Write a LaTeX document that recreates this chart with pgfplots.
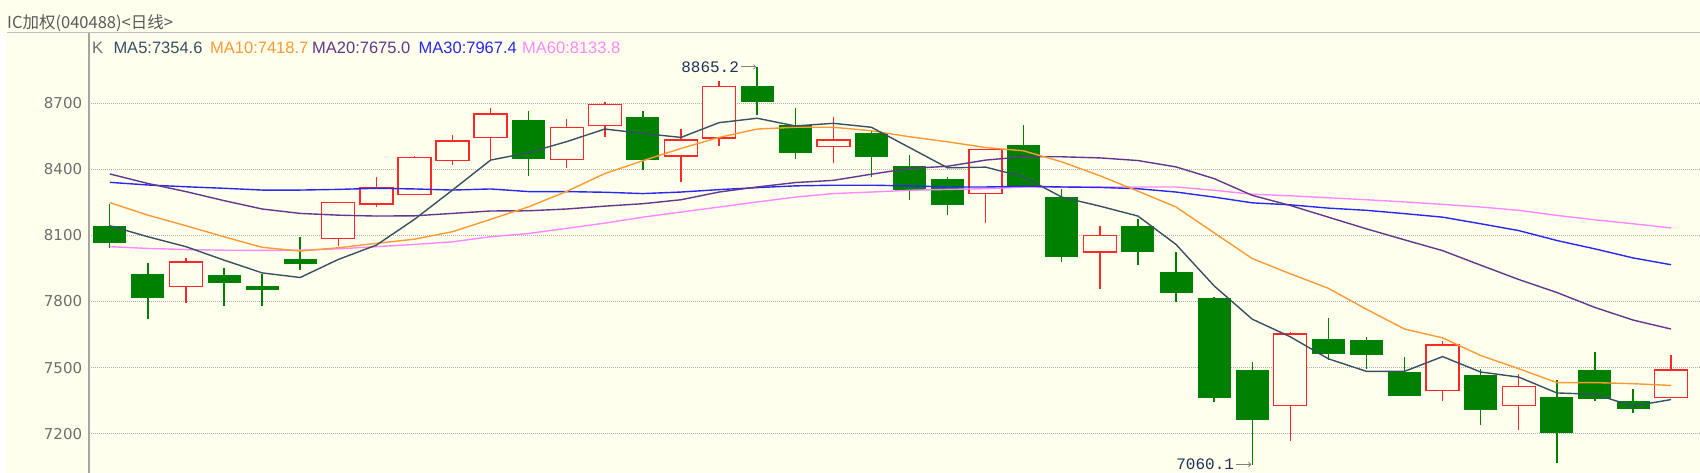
\documentclass[border=0pt]{standalone}
\usepackage{fontspec}
\setmainfont{DejaVu Sans}
\newfontfamily\cjk{Noto Sans CJK SC}
\newfontfamily\monof{Liberation Mono}
\newfontfamily\legf{Liberation Sans}
\usepackage{pgfplots}
\usepackage{pgfplotstable}
\pgfplotsset{compat=1.18}
\usetikzlibrary{arrows.meta}

\definecolor{bgc}{RGB}{255,255,238}
\definecolor{gridc}{RGB}{175,175,175}
\definecolor{tickc}{RGB}{110,110,110}
\definecolor{axc}{RGB}{165,165,165}
\definecolor{titlec}{RGB}{90,90,90}
\definecolor{upc}{RGB}{255,40,40}
\definecolor{dnc}{RGB}{0,128,0}
\definecolor{ma5c}{RGB}{55,80,100}
\definecolor{ma10c}{RGB}{255,153,51}
\definecolor{ma20c}{RGB}{100,55,140}
\definecolor{ma30c}{RGB}{40,40,240}
\definecolor{ma60c}{RGB}{255,136,255}
\definecolor{annc}{RGB}{30,50,90}

% moving averages, one row per trading day
\pgfplotstableread{
i  ma5   ma10  ma20  ma30  ma60
1  8144  8249  8379  8341  8049
2  8094  8192  8336  8329  8041
3  8049  8144  8299  8321  8036
4  7988  8094  8258  8314  8033
5  7930  8046  8220  8306  8032
6  7909  8029  8200  8306  8033
7  7991  8044  8192  8309  8039
8  8056  8064  8188  8314  8049
9  8173  8083  8189  8311  8059
10 8306  8117  8200  8306  8071
11 8442  8173  8211  8311  8094
12 8476  8230  8212  8299  8109
13 8526  8300  8220  8299  8132
14 8583  8381  8233  8296  8156
15 8563  8439  8244  8290  8183
16 8545  8495  8262  8297  8206
17 8612  8545  8297  8308  8229
18 8632  8583  8320  8317  8252
19 8597  8591  8340  8325  8274
20 8609  8591  8350  8328  8290
21 8591  8575  8378  8328  8297
22 8499  8548  8404  8325  8305
23 8407  8525  8414  8320  8309
24 8410  8499  8442  8320  8312
25 8366  8484  8457  8323  8320
26 8274  8434  8457  8320  8320
27 8233  8371  8452  8318  8320
28 8188  8301  8440  8312  8320
29 8059  8229  8411  8297  8320
30 7871  8112  8358  8274  8305
31 7720  7995  8282  8248  8287
32 7640  7926  8236  8239  8280
33 7540  7860  8183  8224  8271
34 7483  7765  8130  8214  8262
35 7483  7675  8080  8199  8252
36 7550  7635  8031  8183  8241
37 7480  7555  7965  8153  8229
38 7457  7495  7900  8122  8214
39 7385  7432  7841  8077  8191
40 7379  7432  7773  8039  8171
41 7325  7427  7716  7998  8153
42 7355  7419  7675  7967  8134
}\malines

% rising days (close >= open): open high low close
\pgfplotstableread{
i  o     h     l     c
3  7868  7999  7795  7980
7  8085  8249  8052  8249
8  8243  8364  8228  8317
9  8285  8461  8285  8453
10 8439  8555  8418  8529
11 8544  8677  8442  8652
13 8446  8627  8405  8589
14 8600  8708  8548  8695
16 8461  8584  8343  8533
17 8543  8799  8505  8776
20 8505  8639  8431  8533
24 8290  8492  8157  8490
27 8024  8145  7856  8100
32 7328  7660  7167  7653
36 7395  7623  7350  7603
38 7328  7469  7216  7415
42 7364  7558  7364  7489
}\upday

% falling days
\pgfplotstableread{
i  o     h       l       c
1  8144  8241    8044    8068
2  7924  7974    7720    7818
4  7919  7950    7780    7886
5  7871  7924    7780    7853
6  7993  8093    7942    7972
12 8621  8665    8370    8450
15 8639  8665    8399    8445
18 8776  8865.2  8647    8705
19 8601  8677    8449    8475
21 8566  8578    8366    8457
22 8416  8464    8262    8309
23 8355  8366    8191    8239
25 8510  8601    8325    8325
26 8274  8312    7978    8004
28 8142  8176    7967    8024
29 7931  8024    7798    7841
30 7815  7821    7344    7362
31 7490  7525    7060.1  7265
33 7630  7723    7535    7565
34 7624  7641    7495    7559
35 7477  7550    7370    7370
37 7465  7495    7239    7307
39 7367  7442    7068    7204
40 7490  7570    7349    7358
41 7347  7404    7295    7314
}\dnday

\begin{document}
\begin{tikzpicture}
\useasboundingbox (0,0) rectangle (1700pt,473pt);
\fill[bgc] (0,0) rectangle (1700pt,473pt);
\fill[white] (0,0) rectangle (6pt,440pt);
\draw[axc!70, line width=1pt] (7pt,440pt) -- (1700pt,440pt);

\begin{axis}[
  at={(89pt,0pt)}, anchor=south west,
  scale only axis, width=1611pt, height=440pt,
  xmin=0.454, xmax=42.76, ymin=7021.6, ymax=9019,
  axis line style={draw=none},
  xtick=\empty, ytick={7200,7500,...,8700},
  major tick length=0pt,
  ymajorgrids,
  grid style={gridc, line width=0.8pt, dash pattern=on 1pt off 1pt},
  yticklabel style={font=\fontsize{15}{18}\selectfont, text=tickc,
    inner sep=0pt, xshift=-6.7pt},
  /pgf/number format/1000 sep={},
  /pgf/number format/assume math mode=true,
  stick/.style={draw=none, mark=none, forget plot,
    error bars/.cd, y dir=both, y explicit, error mark=none,
    error bar style={line cap=butt, #1}},
]
% wicks
\addplot[stick={draw=upc, line width=1.4pt}] table[x=i,
  y expr=(\thisrow{h}+\thisrow{l})/2, y error expr=(\thisrow{h}-\thisrow{l})/2] {\upday};
\addplot[stick={draw=dnc, line width=1.4pt}] table[x=i,
  y expr=(\thisrow{h}+\thisrow{l})/2, y error expr=(\thisrow{h}-\thisrow{l})/2] {\dnday};
% falling bodies: solid green
\addplot[stick={draw=dnc, line width=33pt}] table[x=i,
  y expr=(\thisrow{o}+\thisrow{c})/2, y error expr=(\thisrow{o}-\thisrow{c})/2+1] {\dnday};
% rising bodies: red outline, hollow
\addplot[stick={draw=upc, line width=34.4pt}] table[x=i,
  y expr=(\thisrow{o}+\thisrow{c})/2, y error expr=(\thisrow{c}-\thisrow{o})/2+3.2] {\upday};
\addplot[stick={draw=bgc, line width=31.6pt}] table[x=i,
  y expr=(\thisrow{o}+\thisrow{c})/2, y error expr=(\thisrow{c}-\thisrow{o})/2-3.2] {\upday};

\addplot[ma60c, line width=1.4pt] table[x=i, y=ma60] {\malines};
\addplot[ma30c, line width=1.4pt] table[x=i, y=ma30] {\malines};
\addplot[ma20c, line width=1.4pt] table[x=i, y=ma20] {\malines};
\addplot[ma10c, line width=1.4pt] table[x=i, y=ma10] {\malines};
\addplot[ma5c, line width=1.4pt] table[x=i, y=ma5] {\malines};

\node[anchor=east, inner sep=0pt, text=annc, font=\monof\fontsize{16}{18}\selectfont]
  at ([xshift=-18pt]axis cs:18,8865.2) {8865.2};
\draw[gray, line width=0.8pt, -{To[length=3pt,width=5pt]}]
  ([xshift=-16pt]axis cs:18,8865.2) -- ([xshift=-1pt]axis cs:18,8865.2);
\node[anchor=east, inner sep=0pt, text=annc, font=\monof\fontsize{16}{18}\selectfont]
  at ([xshift=-18pt]axis cs:31,7060.1) {7060.1};
\draw[gray, line width=0.8pt, -{To[length=3pt,width=5pt]}]
  ([xshift=-16pt]axis cs:31,7060.1) -- ([xshift=-1pt]axis cs:31,7060.1);
\end{axis}

\draw[axc, line width=1.2pt] (89pt,0pt) -- (89pt,440pt);

\node[anchor=west, inner sep=0pt, text=titlec, font=\cjk\fontsize{16.5}{18}\selectfont]
  at (7pt,450.3pt) {IC加权(040488)<日线>};
\begin{scope}[every node/.style={anchor=west, inner sep=0pt, font=\legf\fontsize{16.5}{18}\selectfont}]
\node[text=tickc] at (92pt,424.7pt) {K};
\node[text=ma5c] at (113.3pt,424.7pt) {MA5:7354.6};
\node[text=ma10c] at (210pt,424.7pt) {MA10:7418.7};
\node[text=ma20c] at (312pt,424.7pt) {MA20:7675.0};
\node[text=ma30c] at (418.5pt,424.7pt) {MA30:7967.4};
\node[text=ma60c] at (522pt,424.7pt) {MA60:8133.8};
\end{scope}
\end{tikzpicture}
\end{document}
